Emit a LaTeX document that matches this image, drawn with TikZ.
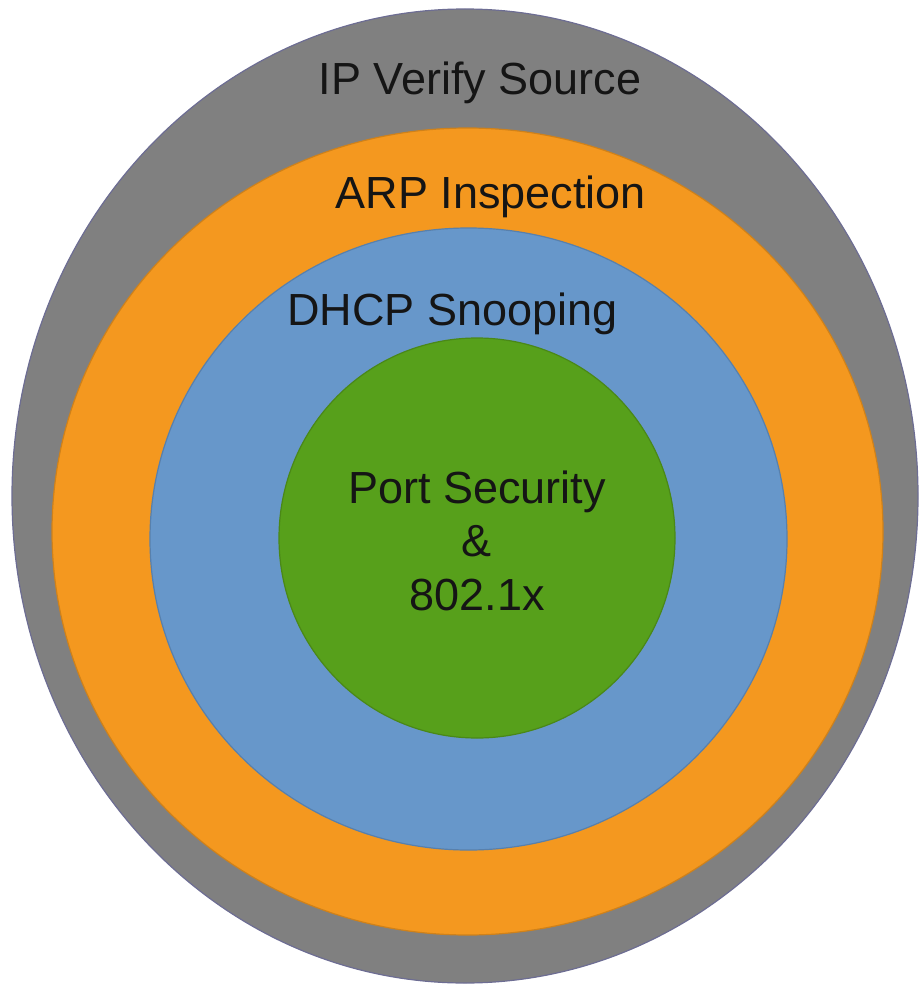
\documentclass[tikz,border=0pt]{standalone}
\usepackage{fontspec}
\setmainfont{Liberation Sans}
\definecolor{ringgray}{HTML}{808080}
\definecolor{ringorange}{HTML}{F4981F}
\definecolor{ringblue}{HTML}{6797CA}
\definecolor{ringgreen}{HTML}{57A01B}
\definecolor{labeltext}{HTML}{151515}
\begin{document}
\begin{tikzpicture}[
  x=1pt, y=-1pt,
  ring/.style={line width=1.2pt},
  label/.style={inner sep=0pt, anchor=base, align=center, text=labeltext, font=\fontsize{45}{53.5}\selectfont}
]
  \useasboundingbox (0,0) rectangle (920,987);

  % IP Verify Source
  \filldraw[ring, fill=ringgray, draw=ringgray!85!blue] (465,496) ellipse [x radius=453pt, y radius=487pt];
  \node[label] (ipvs) at (480,95) {IP Verify Source};

  % ARP Inspection
  \filldraw[ring, fill=ringorange, draw=ringorange!85!black] (467.5,531.5) ellipse [x radius=415.5pt, y radius=403.5pt];
  \node[label] (arp) at (491,208) {ARP Inspection};

  % DHCP Snooping
  \filldraw[ring, fill=ringblue, draw=ringblue!85!black] (468.5,539) ellipse [x radius=318.5pt, y radius=311pt];
  \node[label] (dhcp) at (452.5,325) {DHCP Snooping};

  % Port Security (base = last line)
  \filldraw[ring, fill=ringgreen, draw=ringgreen!85!black] (477,538) ellipse [x radius=198pt, y radius=200pt];
  \node[label] (portsec) at (477,610) {Port Security\\\&\\802.1x};
\end{tikzpicture}
\end{document}
